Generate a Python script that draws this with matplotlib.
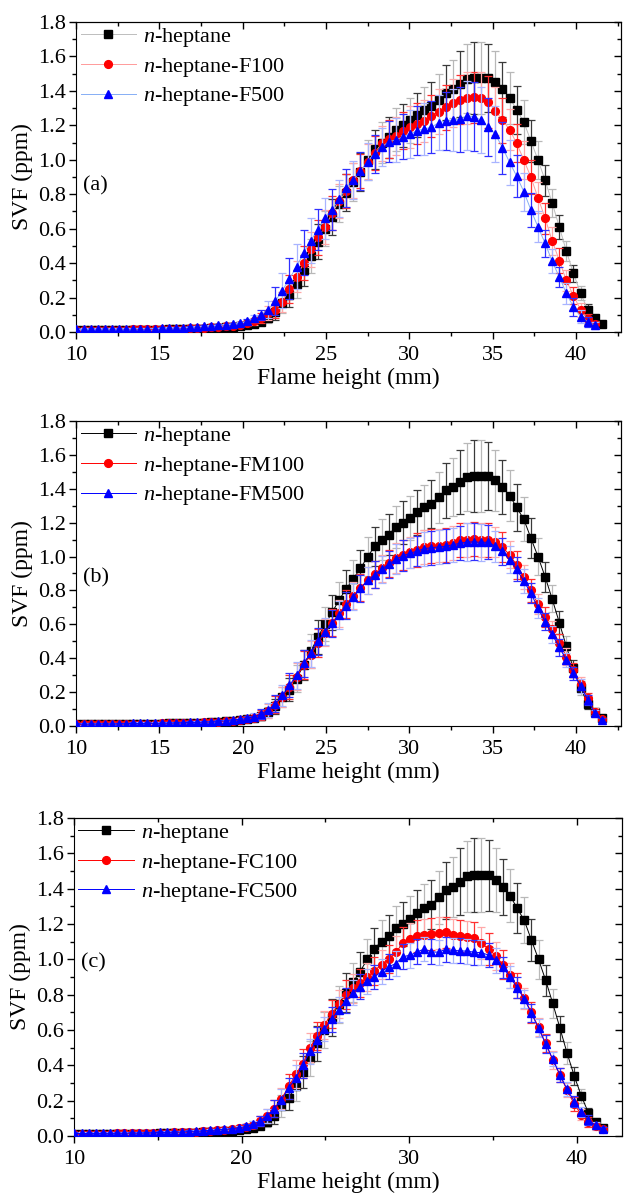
import numpy as np
import matplotlib
matplotlib.use('Agg')
import matplotlib.pyplot as plt
from matplotlib.ticker import MultipleLocator, FormatStrFormatter

plt.rcParams['font.family'] = ['Liberation Serif', 'DejaVu Serif']
plt.rcParams['mathtext.fontset'] = 'custom'
plt.rcParams['mathtext.rm'] = 'Liberation Serif'
plt.rcParams['mathtext.it'] = 'Liberation Serif:italic'

# ---------------- data ----------------
height = [10.03, 10.46, 10.88, 11.31, 11.73, 12.16, 12.59, 13.01, 13.44, 13.86,
          14.29, 14.72, 15.14, 15.57, 15.99, 16.42, 16.85, 17.27, 17.70, 18.12,
          18.55, 18.98, 19.40, 19.83, 20.25, 20.68, 21.11, 21.53, 21.96, 22.38,
          22.81, 23.24, 23.66, 24.09, 24.51, 24.94, 25.37, 25.79, 26.22, 26.64,
          27.07, 27.50, 27.92, 28.35, 28.77, 29.20, 29.63, 30.05, 30.48, 30.90,
          31.33, 31.76, 32.18, 32.61, 33.03, 33.46, 33.89, 34.31, 34.74, 35.16,
          35.59, 36.02, 36.44, 36.87, 37.29, 37.72, 38.15, 38.57, 39.00, 39.42,
          39.85, 40.28, 40.70, 41.13, 41.55]

# n-heptane (same in all panels)
svf_hep = [0.010, 0.010, 0.010, 0.010, 0.011, 0.011, 0.011, 0.012, 0.012, 0.012,
           0.013, 0.013, 0.014, 0.015, 0.015, 0.016, 0.017, 0.018, 0.020, 0.022,
           0.024, 0.027, 0.030, 0.034, 0.039, 0.046, 0.058, 0.080, 0.115, 0.170,
           0.215, 0.280, 0.360, 0.440, 0.525, 0.600, 0.670, 0.745, 0.810, 0.870,
           0.930, 1.000, 1.060, 1.100, 1.130, 1.175, 1.200, 1.230, 1.260, 1.290,
           1.310, 1.350, 1.390, 1.410, 1.440, 1.470, 1.475, 1.475, 1.475, 1.450,
           1.410, 1.360, 1.290, 1.220, 1.110, 1.000, 0.880, 0.750, 0.610, 0.470,
           0.340, 0.225, 0.130, 0.080, 0.047]
err_hep = [0.004] * 16 + [0.006] * 7 + [
    0.008, 0.010, 0.015, 0.02, 0.03, 0.045, 0.06, 0.07, 0.08, 0.09,
    0.10, 0.10, 0.10, 0.105, 0.105, 0.11, 0.11, 0.11, 0.115, 0.115,
    0.12, 0.12, 0.125, 0.125, 0.13, 0.13, 0.135, 0.14, 0.15, 0.16,
    0.17, 0.19, 0.20, 0.21, 0.21, 0.20, 0.18, 0.16, 0.15, 0.14,
    0.13, 0.12, 0.11, 0.09, 0.08, 0.07, 0.06, 0.05, 0.04, 0.03,
    0.02, 0.01]

# (a) F100 / F500
svf_f100 = [0.012, 0.012, 0.012, 0.013, 0.013, 0.013, 0.014, 0.014, 0.015, 0.015,
            0.016, 0.016, 0.017, 0.018, 0.019, 0.020, 0.021, 0.023, 0.025, 0.027,
            0.030, 0.033, 0.037, 0.042, 0.050, 0.062, 0.080, 0.110, 0.130, 0.175,
            0.250, 0.320, 0.400, 0.480, 0.550, 0.610, 0.690, 0.760, 0.820, 0.880,
            0.935, 0.990, 1.040, 1.095, 1.120, 1.140, 1.170, 1.190, 1.210, 1.225,
            1.255, 1.280, 1.305, 1.330, 1.350, 1.360, 1.362, 1.360, 1.335, 1.285,
            1.230, 1.175, 1.095, 1.000, 0.900, 0.780, 0.660, 0.530, 0.415, 0.300,
            0.210, 0.130, 0.075, 0.045]
err_f100 = [0.005] * 23 + [
    0.01, 0.015, 0.02, 0.03, 0.04, 0.05, 0.06, 0.08,
    0.09, 0.10, 0.10, 0.10, 0.10, 0.10, 0.10, 0.10, 0.10, 0.10, 0.10, 0.10, 0.10,
    0.11, 0.11, 0.11, 0.12, 0.12, 0.12, 0.12,
    0.13, 0.13, 0.14, 0.14, 0.15, 0.15, 0.15, 0.15,
    0.14, 0.13, 0.12, 0.11, 0.11, 0.10, 0.09, 0.09, 0.08,
    0.07, 0.06, 0.05, 0.04, 0.03, 0.02]
svf_f500 = [0.015, 0.015, 0.015, 0.016, 0.016, 0.016, 0.017, 0.017, 0.018, 0.018,
            0.019, 0.020, 0.021, 0.022, 0.023, 0.025, 0.027, 0.029, 0.032, 0.035,
            0.038, 0.042, 0.047, 0.053, 0.062, 0.080, 0.100, 0.130, 0.180, 0.240,
            0.310, 0.380, 0.460, 0.530, 0.595, 0.660, 0.710, 0.775, 0.835, 0.885,
            0.935, 0.990, 1.035, 1.075, 1.105, 1.115, 1.135, 1.150, 1.170, 1.178,
            1.190, 1.215, 1.225, 1.230, 1.235, 1.255, 1.250, 1.230, 1.190, 1.150,
            1.070, 0.985, 0.905, 0.815, 0.710, 0.610, 0.515, 0.410, 0.320, 0.225,
            0.145, 0.090, 0.060, 0.040]
err_f500 = [0.006] * 24 + [
    0.015, 0.02, 0.03, 0.05, 0.08, 0.10, 0.12, 0.13, 0.13, 0.13,
    0.12, 0.12, 0.12, 0.11, 0.11, 0.11, 0.11, 0.11, 0.11, 0.11, 0.12,
    0.13, 0.13, 0.14, 0.14, 0.15, 0.15,
    0.16, 0.17, 0.18, 0.19, 0.20, 0.20, 0.19,
    0.17, 0.16, 0.15, 0.13, 0.12, 0.11, 0.10,
    0.09, 0.08, 0.07, 0.06, 0.06, 0.05, 0.04, 0.03, 0.02]

# (b) FM100 / FM500
svf_fm100 = [0.010, 0.010, 0.011, 0.011, 0.011, 0.012, 0.012, 0.012, 0.013, 0.013,
             0.014, 0.014, 0.015, 0.016, 0.017, 0.018, 0.019, 0.020, 0.022, 0.024,
             0.026, 0.029, 0.032, 0.036, 0.041, 0.050, 0.065, 0.090, 0.125, 0.170,
             0.230, 0.290, 0.360, 0.420, 0.490, 0.550, 0.610, 0.665, 0.720, 0.770,
             0.815, 0.860, 0.895, 0.930, 0.960, 0.990, 1.010, 1.025, 1.040, 1.055,
             1.060, 1.065, 1.070, 1.080, 1.095, 1.100, 1.105, 1.100, 1.100, 1.085,
             1.055, 1.010, 0.950, 0.880, 0.800, 0.720, 0.645, 0.570, 0.490, 0.410,
             0.330, 0.250, 0.165, 0.085, 0.040]
err_fm100 = [0.005] * 23 + [
    0.01, 0.015, 0.02, 0.03, 0.04, 0.05, 0.06, 0.07] + [0.08] * 14 + [
    0.09, 0.09, 0.09, 0.10, 0.10, 0.10, 0.10, 0.10, 0.10, 0.10, 0.10, 0.10, 0.10, 0.10,
    0.09, 0.09, 0.08, 0.08, 0.07, 0.07, 0.06, 0.06,
    0.05, 0.05, 0.05, 0.04, 0.04, 0.03, 0.02, 0.01]
svf_fm500 = [0.012, 0.012, 0.012, 0.013, 0.013, 0.013, 0.014, 0.014, 0.015, 0.015,
             0.016, 0.016, 0.017, 0.018, 0.019, 0.020, 0.021, 0.022, 0.024, 0.026,
             0.028, 0.031, 0.035, 0.039, 0.045, 0.055, 0.070, 0.095, 0.130, 0.180,
             0.240, 0.300, 0.370, 0.430, 0.500, 0.555, 0.606, 0.655, 0.710, 0.762,
             0.812, 0.860, 0.893, 0.925, 0.955, 0.985, 1.005, 1.020, 1.032, 1.047,
             1.052, 1.057, 1.060, 1.070, 1.078, 1.085, 1.087, 1.083, 1.085, 1.060,
             1.030, 0.980, 0.925, 0.855, 0.785, 0.695, 0.615, 0.540, 0.465, 0.390,
             0.310, 0.235, 0.155, 0.075, 0.035]
err_fm500 = [0.006] * 23 + [
    0.01, 0.015, 0.02, 0.03, 0.04, 0.05, 0.06, 0.07] + [0.08] * 14 + [
    0.09, 0.09, 0.09, 0.09, 0.10, 0.10, 0.10, 0.10, 0.10, 0.10, 0.11, 0.11, 0.11, 0.10,
    0.09, 0.08, 0.08, 0.07, 0.07, 0.06, 0.06, 0.05,
    0.05, 0.05, 0.04, 0.04, 0.04, 0.03, 0.02, 0.01]

# (c) FC100 / FC500
svf_fc100 = [0.012, 0.012, 0.012, 0.013, 0.013, 0.013, 0.014, 0.014, 0.015, 0.015,
             0.016, 0.017, 0.018, 0.019, 0.020, 0.021, 0.023, 0.025, 0.027, 0.029,
             0.032, 0.035, 0.039, 0.044, 0.052, 0.064, 0.085, 0.115, 0.155, 0.210,
             0.280, 0.350, 0.410, 0.500, 0.565, 0.630, 0.690, 0.745, 0.800, 0.835,
             0.865, 0.900, 0.935, 0.970, 1.000, 1.040, 1.090, 1.115, 1.130, 1.140,
             1.143, 1.148, 1.152, 1.140, 1.133, 1.128, 1.120, 1.090, 1.060, 1.020,
             0.970, 0.910, 0.850, 0.780, 0.700, 0.615, 0.525, 0.430, 0.345, 0.260,
             0.180, 0.120, 0.080, 0.055, 0.040]
err_fc100 = [0.005] * 23 + [
    0.01, 0.015, 0.02, 0.03, 0.04, 0.05, 0.06, 0.07] + [0.08] * 14 + [0.09] * 14 + [
    0.08, 0.08, 0.07, 0.07, 0.06, 0.06, 0.05, 0.05,
    0.05, 0.04, 0.04, 0.04, 0.03, 0.03, 0.02, 0.01]
svf_fc500 = [0.014, 0.014, 0.014, 0.015, 0.015, 0.015, 0.016, 0.016, 0.017, 0.017,
             0.018, 0.019, 0.020, 0.021, 0.022, 0.023, 0.025, 0.027, 0.029, 0.031,
             0.034, 0.037, 0.041, 0.046, 0.054, 0.066, 0.085, 0.115, 0.155, 0.205,
             0.270, 0.330, 0.400, 0.480, 0.545, 0.605, 0.660, 0.715, 0.765, 0.810,
             0.845, 0.875, 0.900, 0.930, 0.958, 0.975, 1.015, 1.022, 1.042, 1.058,
             1.042, 1.040, 1.057, 1.050, 1.048, 1.046, 1.040, 1.037, 1.024, 0.995,
             0.955, 0.900, 0.840, 0.775, 0.695, 0.610, 0.520, 0.435, 0.345, 0.265,
             0.195, 0.135, 0.090, 0.060, 0.040]
err_fc500 = [0.006] * 23 + [
    0.01, 0.015, 0.02, 0.03, 0.04, 0.05, 0.06, 0.06] + [0.07] * 28 + [
    0.07, 0.06, 0.06, 0.06, 0.05, 0.05, 0.05, 0.05,
    0.04, 0.04, 0.04, 0.03, 0.03, 0.03, 0.02, 0.01]

labels_a = ['$\\mathit{n}$-heptane', '$\\mathit{n}$-heptane-F100', '$\\mathit{n}$-heptane-F500']
labels_b = ['$\\mathit{n}$-heptane', '$\\mathit{n}$-heptane-FM100', '$\\mathit{n}$-heptane-FM500']
labels_c = ['$\\mathit{n}$-heptane', '$\\mathit{n}$-heptane-FC100', '$\\mathit{n}$-heptane-FC500']

# ---------------- styling ----------------
marker_col = ['#000000', '#ff0000', '#0000ff']
markers = ['s', 'o', '^']
err_cols = [('#3a3a3a', '#b8b8b8'), ('#ff3030', '#ffa8a8'), ('#3030ff', '#a8b4ff')]
line_light = ['#bdbdbd', '#ff9a9a', '#86aef5']
line_dark = ['#000000', '#ff0000', '#0000ff']

fig = plt.figure(figsize=(6.27, 11.96), dpi=100)
ax_a = fig.add_axes([0.1212, 0.7224, 0.8692, 0.2592])
ax_b = fig.add_axes([0.1212, 0.3930, 0.8692, 0.2550])
ax_c = fig.add_axes([0.1180, 0.0502, 0.8740, 0.2659])

panels = [
    (ax_a, '(a)', 0.47, labels_a, [(svf_hep, err_hep), (svf_f100, err_f100), (svf_f500, err_f500)], line_light, 5),
    (ax_b, '(b)', 0.485, labels_b, [(svf_hep, err_hep), (svf_fm100, err_fm100), (svf_fm500, err_fm500)], line_dark, 5),
    (ax_c, '(c)', 0.544, labels_c, [(svf_hep, err_hep), (svf_fc100, err_fc100), (svf_fc500, err_fc500)], line_dark, 10),
]

for ax, tag, tag_y, labels, series, lcols, xstep in panels:
    z = 1
    for i, (y, e) in enumerate(series):
        x = np.array(height[:len(y)])
        y = np.array(y)
        e = np.array(e)
        for j in range(2):
            ax.errorbar(x[j::2], y[j::2], yerr=e[j::2], fmt='none',
                        ecolor=err_cols[i][j], elinewidth=0.9, capsize=2.6,
                        capthick=0.9, zorder=z)
        z += 1
        ax.plot(x, y, color=lcols[i], lw=0.7, marker=markers[i], ms=5.6,
                mfc=marker_col[i], mec=marker_col[i], label=labels[i], zorder=z)
        z += 1

    ax.set_xlim(10, 42.7)
    ax.set_ylim(0, 1.8)
    ax.xaxis.set_major_locator(MultipleLocator(xstep))
    ax.xaxis.set_minor_locator(MultipleLocator(xstep / 2))
    ax.yaxis.set_major_locator(MultipleLocator(0.2))
    ax.yaxis.set_minor_locator(MultipleLocator(0.1))
    ax.yaxis.set_major_formatter(FormatStrFormatter('%.1f'))
    ax.tick_params(which='major', direction='out', length=5, width=1, labelsize=16)
    ax.tick_params(which='minor', direction='out', length=3, width=1)
    ax.tick_params(axis='x', which='major', pad=5)
    ax.tick_params(axis='y', which='major', pad=2)

    # mirrored inward ticks on top and right
    top = ax.secondary_xaxis('top')
    top.xaxis.set_major_locator(MultipleLocator(xstep))
    top.xaxis.set_minor_locator(MultipleLocator(xstep / 2))
    top.tick_params(which='major', direction='in', length=5, width=1, labeltop=False)
    top.tick_params(which='minor', direction='in', length=3, width=1)
    right = ax.secondary_yaxis('right')
    right.yaxis.set_major_locator(MultipleLocator(0.2))
    right.yaxis.set_minor_locator(MultipleLocator(0.1))
    right.tick_params(which='major', direction='in', length=5, width=1, labelright=False)
    right.tick_params(which='minor', direction='in', length=3, width=1)

    ax.set_xlabel('Flame height (mm)', fontsize=17, labelpad=2)
    ax.set_ylabel('SVF (ppm)', fontsize=17, labelpad=4)
    ax.text(0.012, tag_y, tag, transform=ax.transAxes, fontsize=16, va='center')
    ax.legend(loc='upper left', bbox_to_anchor=(-0.006, 1.012), frameon=False,
              fontsize=16, handlelength=2.5, handletextpad=0.3, labelspacing=0.3,
              borderaxespad=0.15, borderpad=0.2)

fig.savefig('out.png', dpi=100)
